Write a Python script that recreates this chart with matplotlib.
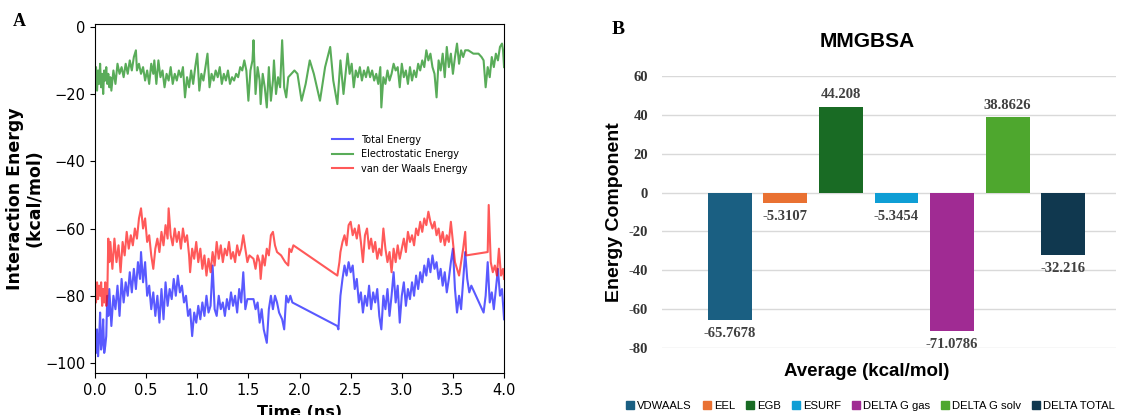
import numpy as np
import matplotlib.pyplot as plt
from matplotlib.patches import Patch

# ---- panel A: interaction energies along the trajectory ----
t_total = [0.00, 0.01, 0.02, 0.03, 0.04, 0.05, 0.06, 0.07, 0.08, 0.09, 0.10, 0.11, 0.12, 0.13, 0.14, 0.16, 0.18, 0.20,
           0.22, 0.24, 0.26, 0.28, 0.30, 0.32, 0.34, 0.36, 0.38, 0.40, 0.42, 0.44, 0.45, 0.47, 0.49, 0.51, 0.53, 0.55,
           0.57, 0.59, 0.61, 0.63, 0.65, 0.67, 0.69, 0.71, 0.73, 0.75, 0.77, 0.79, 0.81, 0.83, 0.85, 0.87, 0.89, 0.91,
           0.93, 0.95, 0.97, 0.99, 1.01, 1.03, 1.05, 1.07, 1.09, 1.11, 1.13, 1.15, 1.17, 1.19, 1.21, 1.23, 1.25, 1.27,
           1.29, 1.31, 1.33, 1.35, 1.37, 1.39, 1.41, 1.43, 1.45, 1.47, 1.49, 1.51, 1.55, 1.57, 1.59, 1.61, 1.63, 1.65,
           1.68, 1.70, 1.72, 1.74, 1.76, 1.78, 1.80, 1.83, 1.85, 1.87, 1.89, 1.91, 1.93, 2.37, 2.38, 2.40, 2.42, 2.44,
           2.46, 2.48, 2.50, 2.52, 2.54, 2.56, 2.58, 2.60, 2.62, 2.64, 2.66, 2.68, 2.70, 2.72, 2.74, 2.76, 2.78, 2.80,
           2.82, 2.84, 2.86, 2.88, 2.90, 2.92, 2.94, 2.96, 2.98, 3.00, 3.02, 3.04, 3.06, 3.08, 3.10, 3.12, 3.14, 3.16,
           3.18, 3.20, 3.22, 3.24, 3.26, 3.28, 3.30, 3.32, 3.34, 3.36, 3.38, 3.40, 3.42, 3.44, 3.46, 3.48, 3.50, 3.52,
           3.54, 3.56, 3.58, 3.62, 3.64, 3.66, 3.68, 3.80, 3.82, 3.84, 3.86, 3.88, 3.90, 3.92, 3.94, 3.96, 3.98, 4.00]
total = [-92, -97, -90, -98, -93, -85, -96, -94, -87, -97, -95, -92, -80, -86, -78, -89, -80, -84,
         -77, -86, -75, -82, -76, -80, -73, -79, -72, -78, -70, -75, -67, -76, -70, -80, -77, -84,
         -79, -86, -80, -88, -78, -87, -76, -83, -78, -81, -75, -80, -74, -79, -77, -82, -80, -86,
         -84, -92, -85, -88, -83, -87, -82, -86, -80, -85, -83, -71, -84, -86, -80, -84, -82, -86,
         -81, -84, -79, -83, -80, -85, -78, -82, -73, -84, -81, -81, -81, -84, -82, -88, -84, -90,
         -94, -84, -80, -84, -80, -82, -85, -87, -90, -80, -82, -80, -82, -89, -90, -80, -75, -71,
         -74, -70, -73, -71, -78, -75, -82, -79, -85, -80, -83, -77, -84, -79, -82, -78, -86, -90,
         -80, -84, -78, -86, -80, -73, -82, -77, -88, -80, -76, -83, -78, -81, -76, -80, -74, -78,
         -73, -76, -71, -74, -69, -73, -68, -72, -70, -75, -72, -77, -73, -79, -75, -70, -66, -78,
         -85, -80, -84, -67, -75, -79, -77, -85, -80, -70, -82, -79, -84, -78, -72, -80, -78, -87]

t_elec = [0.00, 0.01, 0.02, 0.03, 0.04, 0.05, 0.06, 0.07, 0.08, 0.09, 0.10, 0.11, 0.12, 0.13, 0.14, 0.15, 0.16, 0.18,
          0.20, 0.22, 0.24, 0.26, 0.28, 0.30, 0.32, 0.34, 0.36, 0.38, 0.40, 0.41, 0.43, 0.45, 0.47, 0.49, 0.51, 0.53,
          0.55, 0.57, 0.58, 0.60, 0.62, 0.64, 0.66, 0.68, 0.70, 0.72, 0.74, 0.76, 0.78, 0.80, 0.82, 0.84, 0.86, 0.88,
          0.90, 0.92, 0.94, 0.96, 0.98, 1.00, 1.02, 1.04, 1.06, 1.08, 1.10, 1.12, 1.14, 1.16, 1.18, 1.20, 1.22, 1.24,
          1.26, 1.28, 1.30, 1.32, 1.34, 1.36, 1.38, 1.40, 1.42, 1.44, 1.46, 1.48, 1.50, 1.52, 1.54, 1.55, 1.57, 1.59,
          1.61, 1.62, 1.64, 1.66, 1.68, 1.70, 1.72, 1.74, 1.75, 1.77, 1.79, 1.81, 1.83, 1.85, 1.87, 1.89, 1.92, 1.95,
          1.98, 2.02, 2.06, 2.10, 2.14, 2.20, 2.25, 2.30, 2.33, 2.37, 2.40, 2.43, 2.47, 2.49, 2.51, 2.53, 2.55, 2.57,
          2.59, 2.61, 2.63, 2.65, 2.67, 2.69, 2.71, 2.73, 2.75, 2.77, 2.79, 2.80, 2.82, 2.84, 2.86, 2.88, 2.90, 2.92,
          2.94, 2.96, 2.98, 3.00, 3.02, 3.04, 3.06, 3.08, 3.10, 3.12, 3.14, 3.16, 3.18, 3.20, 3.22, 3.24, 3.26, 3.28,
          3.30, 3.32, 3.34, 3.36, 3.38, 3.40, 3.42, 3.44, 3.46, 3.48, 3.50, 3.52, 3.54, 3.56, 3.58, 3.60, 3.62, 3.65,
          3.70, 3.75, 3.78, 3.80, 3.82, 3.84, 3.86, 3.88, 3.90, 3.92, 3.94, 3.96, 3.98, 3.99, 4.00]
elec = [-15, -12, -19, -13, -17, -11, -18, -14, -20, -13, -16, -12, -17, -14, -18, -15, -19, -13,
        -17, -11, -14, -12, -15, -11, -14, -10, -13, -9, -7, -13, -11, -14, -12, -16, -13, -17,
        -11, -14, -10, -17, -10, -15, -13, -18, -14, -16, -12, -17, -14, -16, -13, -15, -12, -21,
        -15, -18, -13, -17, -12, -8, -19, -14, -16, -12, -8, -18, -14, -16, -13, -15, -12, -17,
        -14, -16, -13, -17, -15, -16, -14, -15, -12, -13, -10, -13, -22, -13, -10, -4, -20, -12,
        -16, -23, -14, -18, -24, -12, -22, -16, -10, -20, -15, -18, -4, -18, -21, -15, -14, -13,
        -14, -22, -17, -10, -14, -22, -12, -6, -16, -23, -10, -20, -8, -14, -11, -18, -13, -15,
        -12, -16, -13, -15, -12, -15, -13, -16, -14, -17, -12, -24, -15, -17, -13, -16, -14, -11,
        -13, -12, -18, -11, -15, -13, -17, -12, -16, -13, -15, -11, -13, -10, -12, -7, -10, -8,
        -12, -14, -21, -10, -13, -8, -15, -6, -12, -8, -14, -9, -5, -11, -7, -9, -7, -7,
        -8, -8, -9, -10, -18, -12, -15, -9, -12, -8, -10, -6, -5, -7, -12]

t_vdw = [0.00, 0.01, 0.02, 0.03, 0.04, 0.05, 0.06, 0.07, 0.08, 0.09, 0.10, 0.11, 0.12, 0.13, 0.14, 0.15, 0.17, 0.19,
         0.21, 0.23, 0.25, 0.27, 0.29, 0.31, 0.33, 0.35, 0.37, 0.39, 0.41, 0.43, 0.45, 0.47, 0.49, 0.51, 0.53, 0.55,
         0.57, 0.59, 0.61, 0.63, 0.65, 0.67, 0.69, 0.71, 0.72, 0.74, 0.76, 0.78, 0.80, 0.82, 0.84, 0.86, 0.88, 0.90,
         0.92, 0.93, 0.95, 0.97, 0.99, 1.01, 1.03, 1.05, 1.07, 1.09, 1.11, 1.13, 1.15, 1.17, 1.19, 1.21, 1.23, 1.25,
         1.27, 1.29, 1.31, 1.33, 1.35, 1.37, 1.39, 1.41, 1.43, 1.45, 1.47, 1.49, 1.51, 1.55, 1.57, 1.59, 1.61, 1.62,
         1.64, 1.66, 1.68, 1.70, 1.72, 1.74, 1.76, 1.78, 1.82, 1.86, 1.89, 1.90, 1.92, 1.94, 2.37, 2.39, 2.40, 2.42,
         2.44, 2.46, 2.48, 2.50, 2.52, 2.54, 2.56, 2.58, 2.60, 2.62, 2.64, 2.66, 2.68, 2.70, 2.72, 2.74, 2.76, 2.78,
         2.80, 2.82, 2.84, 2.86, 2.88, 2.90, 2.92, 2.94, 2.96, 2.98, 3.00, 3.02, 3.04, 3.06, 3.08, 3.10, 3.12, 3.14,
         3.16, 3.18, 3.20, 3.22, 3.24, 3.26, 3.28, 3.30, 3.32, 3.34, 3.36, 3.38, 3.40, 3.42, 3.44, 3.46, 3.48, 3.50,
         3.52, 3.54, 3.56, 3.58, 3.60, 3.62, 3.63, 3.84, 3.85, 3.87, 3.89, 3.91, 3.93, 3.95, 3.97, 3.99, 4.00]
vdw = [-78, -82, -76, -81, -77, -80, -76, -83, -78, -82, -76, -83, -80, -63, -70, -64, -72, -63,
       -70, -65, -73, -64, -68, -61, -66, -62, -65, -60, -63, -57, -54, -60, -57, -64, -62, -68,
       -72, -66, -63, -67, -61, -65, -59, -63, -54, -62, -65, -60, -64, -61, -66, -60, -64, -62,
       -68, -73, -66, -69, -64, -70, -66, -72, -68, -74, -69, -73, -67, -71, -64, -69, -65, -70,
       -66, -68, -64, -69, -67, -70, -65, -68, -66, -62, -66, -70, -68, -69, -72, -68, -70, -75,
       -68, -71, -66, -68, -62, -61, -65, -67, -68, -70, -71, -66, -67, -65, -74, -70, -67, -64,
       -62, -65, -59, -58, -62, -60, -63, -59, -64, -70, -62, -60, -66, -63, -67, -64, -69, -66,
       -68, -60, -66, -70, -67, -73, -66, -70, -65, -69, -66, -63, -67, -61, -64, -62, -65, -60,
       -62, -58, -61, -57, -59, -55, -58, -60, -58, -62, -60, -64, -61, -65, -62, -64, -58, -64,
       -70, -72, -74, -70, -66, -61, -68, -67, -53, -70, -73, -71, -74, -66, -74, -72, -75]

# ---- panel B: MMGBSA energy components ----
components = ["VDWAALS", "EEL", "EGB", "ESURF", "DELTA G gas", "DELTA G solv", "DELTA TOTAL"]
averages = [-65.7678, -5.3107, 44.208, -5.3454, -71.0786, 38.8626, -32.216]
bar_colors = ["#1a5f82", "#e97132", "#196b24", "#0f9ed5", "#a02b93", "#4ea72e", "#10384f"]
b_ticks = [-80, -60, -40, -20, 0, 20, 40, 60]

fig = plt.figure(figsize=(11.35, 4.15), dpi=100)

ax1 = fig.add_axes([0.0837, 0.101, 0.3604, 0.841])
ax1.plot(t_total, total, color="blue", alpha=0.65, lw=1.5, label="Total Energy")
ax1.plot(t_elec, elec, color="green", alpha=0.65, lw=1.5, label="Electrostatic Energy")
ax1.plot(t_vdw, vdw, color="red", alpha=0.65, lw=1.5, label="van der Waals Energy")
ax1.set_xlim(0, 4)
ax1.set_ylim(-103, 0.8)
ax1.set_xticks(np.arange(0, 4.01, 0.5))
ax1.set_yticks([0, -20, -40, -60, -80, -100])
ax1.tick_params(labelsize=10.5)
ax1.set_xlabel("Time (ns)", fontsize=11.5, fontweight="bold", labelpad=5)
ax1.set_ylabel("Interaction Energy\n(kcal/mol)", fontsize=12.5, fontweight="bold", linespacing=1.1)
ax1.yaxis.set_label_coords(-0.125, 0.5)
ax1.legend(loc="center", bbox_to_anchor=(0.745, 0.627), frameon=False, fontsize=7,
           handlelength=2.2, labelspacing=0.45)
fig.text(0.011, 0.947, "A", fontsize=13, fontweight="bold", family="Liberation Serif", va="center")

ax2 = fig.add_axes([0.5833, 0.1614, 0.4, 0.6555])
x = np.arange(len(components))
ax2.bar(x, averages, width=0.79, color=bar_colors, zorder=3)
ax2.set_xlim(-1.22, 6.95)
ax2.set_ylim(-80, 60)
ax2.set_yticks(b_ticks)
ax2.set_yticklabels([str(v) for v in b_ticks], family="Liberation Serif", fontweight="bold")
ax2.set_xticks([])
ax2.grid(axis="y", color="#d9d9d9", lw=1, zorder=0)
for s in ax2.spines.values():
    s.set_visible(False)
ax2.tick_params(axis="y", length=0, pad=10, labelsize=10.5, labelcolor="#333333")
for xi, v in zip(x, averages):
    ax2.annotate(f"{v:g}", (xi, v), xytext=(0, 4 if v > 0 else -5), textcoords="offset points",
                 ha="center", va="bottom" if v > 0 else "top", fontsize=10.5, fontweight="bold",
                 family="Liberation Serif", color="#404040")
ax2.set_ylabel("Energy Component", fontsize=14, fontweight="bold", family="Liberation Sans")
ax2.yaxis.set_label_coords(-0.085, 0.5)

fig.text(0.764, 0.901, "MMGBSA", fontsize=15, fontweight="bold", family="Liberation Sans",
         ha="center", va="center")
fig.text(0.764, 0.104, "Average (kcal/mol)", fontsize=13.5, fontweight="bold", family="Liberation Sans",
         ha="center", va="center")
fig.text(0.5385, 0.93, "B", fontsize=14, fontweight="bold", family="Liberation Serif", va="center")

handles = [Patch(color=c, label=n) for c, n in zip(bar_colors, components)]
fig.legend(handles=handles, loc="center", bbox_to_anchor=(0.767, 0.022), ncol=7, frameon=False,
           handlelength=0.7, handleheight=0.7, handletextpad=0.3, columnspacing=0.95,
           prop={"family": "Liberation Sans", "size": 8.1})

fig.savefig("out.png", dpi=100)
